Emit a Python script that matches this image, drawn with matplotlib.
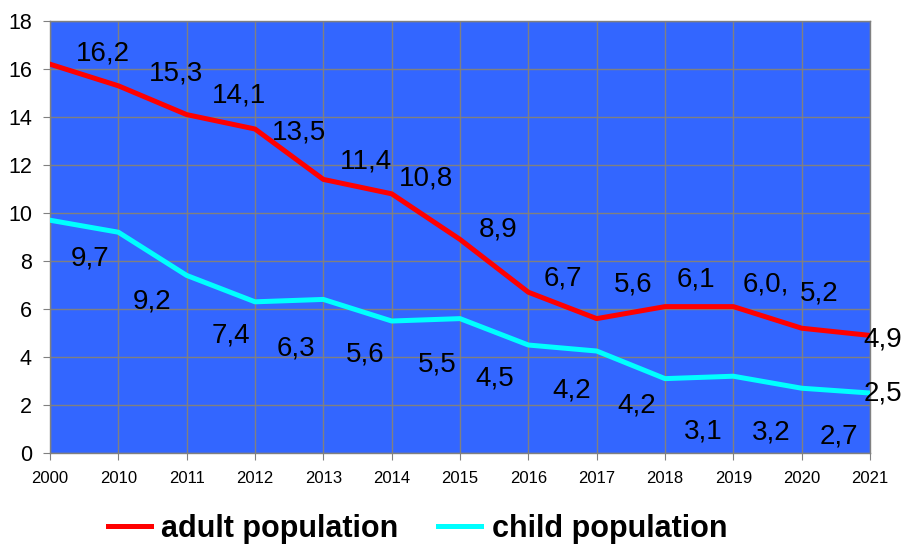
import matplotlib
matplotlib.use("Agg")
import matplotlib.pyplot as plt

plt.rcParams['font.family'] = ['Liberation Sans', 'DejaVu Sans']

years = ["2000", "2010", "2011", "2012", "2013", "2014", "2015",
         "2016", "2017", "2018", "2019", "2020", "2021"]

adult = [16.2, 15.3, 14.1, 13.5, 11.4, 10.8, 8.9, 6.7, 5.6, 6.1, 6.1, 5.2, 4.9]
adult_labels = ["16,2", "15,3", "14,1", "13,5", "11,4", "10,8", "8,9",
                "6,7", "5,6", "6,1", "6,0,", "5,2", "4,9"]

child = [9.7, 9.2, 7.4, 6.3, 6.4, 5.5, 5.6, 4.5, 4.25, 3.1, 3.2, 2.7, 2.5]
child_labels = ["9,7", "9,2", "7,4", "6,3", "5,6", "5,5", "4,5",
                "4,2", "4,2", "3,1", "3,2", "2,7", "2,5"]

# label offsets in pixels (dx, dy) relative to each point
adult_off = [(53, 11), (58, 12), (52, 19), (44, -3), (43, 18), (34, 15), (38, 10),
             (35, 14), (36, 34), (31, 27), (32, 22), (17, 35), (13, -4)]
child_off = [(40, -38), (34, -69), (44, -60), (41, -47), (42, -55), (46, -43), (35, -60),
             (43, -45), (40, -54), (38, -53), (38, -56), (37, -48), (13, 0)]

fig = plt.figure(figsize=(9.06, 5.47), dpi=100)
ax = fig.add_axes([0.0552, 0.1718, 0.9051, 0.7898])
ax.set_facecolor('#3366FF')

x = list(range(len(years)))
ax.plot(x, adult, color='#FF0000', linewidth=3.6, label='adult population', zorder=3)
ax.plot(x, child, color='#00FFFF', linewidth=3.6, label='child population', zorder=3)

for xi, v, t, (dx, dy) in zip(x, adult, adult_labels, adult_off):
    ax.annotate(t, (xi, v), xytext=(dx, dy), textcoords='offset pixels',
                ha='center', va='center', fontsize=20, color='black',
                annotation_clip=False, zorder=4)
for xi, v, t, (dx, dy) in zip(x, child, child_labels, child_off):
    ax.annotate(t, (xi, v), xytext=(dx, dy), textcoords='offset pixels',
                ha='center', va='center', fontsize=20, color='black',
                annotation_clip=False, zorder=4)

ax.set_xlim(0, len(years) - 1)
ax.set_ylim(0, 18)
ax.set_xticks(x)
ax.set_xticklabels(years, fontsize=12)
ax.set_yticks(range(0, 19, 2))
ax.tick_params(axis='y', labelsize=15.5, length=5, color='#808080', pad=8)
ax.tick_params(axis='x', length=5, color='#808080', pad=8)

ax.grid(True, color='#808080', linewidth=1)
ax.set_axisbelow(True)
for s in ax.spines.values():
    s.set_color('#808080')
    s.set_linewidth(1)

fig.legend(loc='center', bbox_to_anchor=(0.461, 0.033), ncol=2, frameon=False,
           prop={'size': 22, 'weight': 'bold'}, handlelength=1.4,
           handletextpad=0.35, columnspacing=1.3, borderpad=0.2)

fig.savefig('out.png', dpi=100)
